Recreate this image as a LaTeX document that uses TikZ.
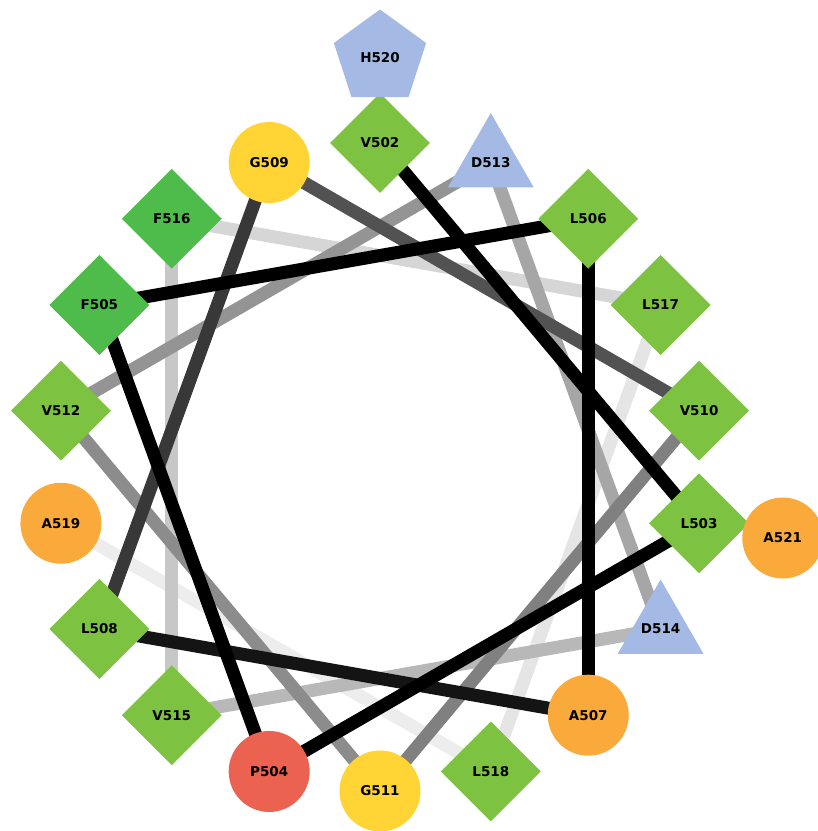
\documentclass[tikz,border=0pt]{standalone}
\usepackage{fontspec}
\setmainfont{DejaVu Sans}
\usetikzlibrary{shapes.geometric}
\pgfdeclarelayer{bg}
\pgfsetlayers{bg,main}
\definecolor{hgreen}{RGB}{126,194,66}
\definecolor{fgreen}{RGB}{78,188,74}
\definecolor{gyellow}{RGB}{255,212,52}
\definecolor{aorange}{RGB}{250,170,58}
\definecolor{pred}{RGB}{236,98,80}
\definecolor{cblue}{RGB}{164,186,228}
\begin{document}
\begin{tikzpicture}[x=1pt,y=1pt,
    res/.style={inner sep=0pt,font=\bfseries\fontsize{13.5}{15}\selectfont},
    hphob/.style={res,diamond,aspect=1,minimum size=100,fill=hgreen},
    arom/.style={res,diamond,aspect=1,minimum size=100,fill=fgreen},
    small/.style={res,circle,minimum size=81,fill=aorange},
    gly/.style={res,circle,minimum size=81,fill=gyellow},
    pro/.style={res,circle,minimum size=81,fill=pred},
    acid/.style={res,regular polygon,regular polygon sides=3,inner sep=-12pt,minimum size=99,fill=cblue},
    basic/.style={res,regular polygon,regular polygon sides=5,minimum size=97,fill=cblue},
    link/.style={line width=13pt}]
  \useasboundingbox (-380,-364) rectangle (438,467);
  % inner ring, 100 degrees per residue
  \path
    (90:324) node[hphob] (V502){V502}
    (-10:324) node[hphob] (L503){L503}
    (-110:324) node[pro] (P504){P504}
    (150:324) node[arom] (F505){F505}
    (50:324) node[hphob] (L506){L506}
    (-50:324) node[small] (A507){A507}
    (-150:324) node[hphob] (L508){L508}
    (110:324) node[gly] (G509){G509}
    (10:324) node[hphob] (V510){V510}
    (-90:324) node[gly] (G511){G511}
    (170:324) node[hphob] (V512){V512}
    (70:324) node[acid] (D513){D513}
    (-30:324) node[acid] (D514){D514}
    (-130:324) node[hphob] (V515){V515}
    (130:324) node[arom] (F516){F516}
    (30:324) node[hphob] (L517){L517}
    (-70:324) node[hphob] (L518){L518}
    (-170:324) node[small] (A519){A519};
  % outer ring
  \path
    (90:409) node[basic] (H520){H520}
    (-10:409) node[small] (A521){A521};
  \begin{pgfonlayer}{bg}
    \begin{scope}[link]
      \draw[black!7] (L518.center) -- (A519.center);
      \draw[black!10] (L517.center) -- (L518.center);
      \draw[black!16] (F516.center) -- (L517.center);
      \draw[black!22] (V515.center) -- (F516.center);
      \draw[black!28] (D514.center) -- (V515.center);
      \draw[black!35] (D513.center) -- (D514.center);
      \draw[black!42] (V512.center) -- (D513.center);
      \draw[black!45] (G511.center) -- (V512.center);
      \draw[black!50] (V510.center) -- (G511.center);
      \draw[black!68] (G509.center) -- (V510.center);
      \draw[black!78] (L508.center) -- (G509.center);
      \draw[black!92] (A507.center) -- (L508.center);
      \draw[black] (L506.center) -- (A507.center);
      \draw[black] (F505.center) -- (L506.center);
      \draw[black] (P504.center) -- (F505.center);
      \draw[black] (L503.center) -- (P504.center);
      \draw[black] (V502.center) -- (L503.center);
    \end{scope}
  \end{pgfonlayer}
\end{tikzpicture}
\end{document}
